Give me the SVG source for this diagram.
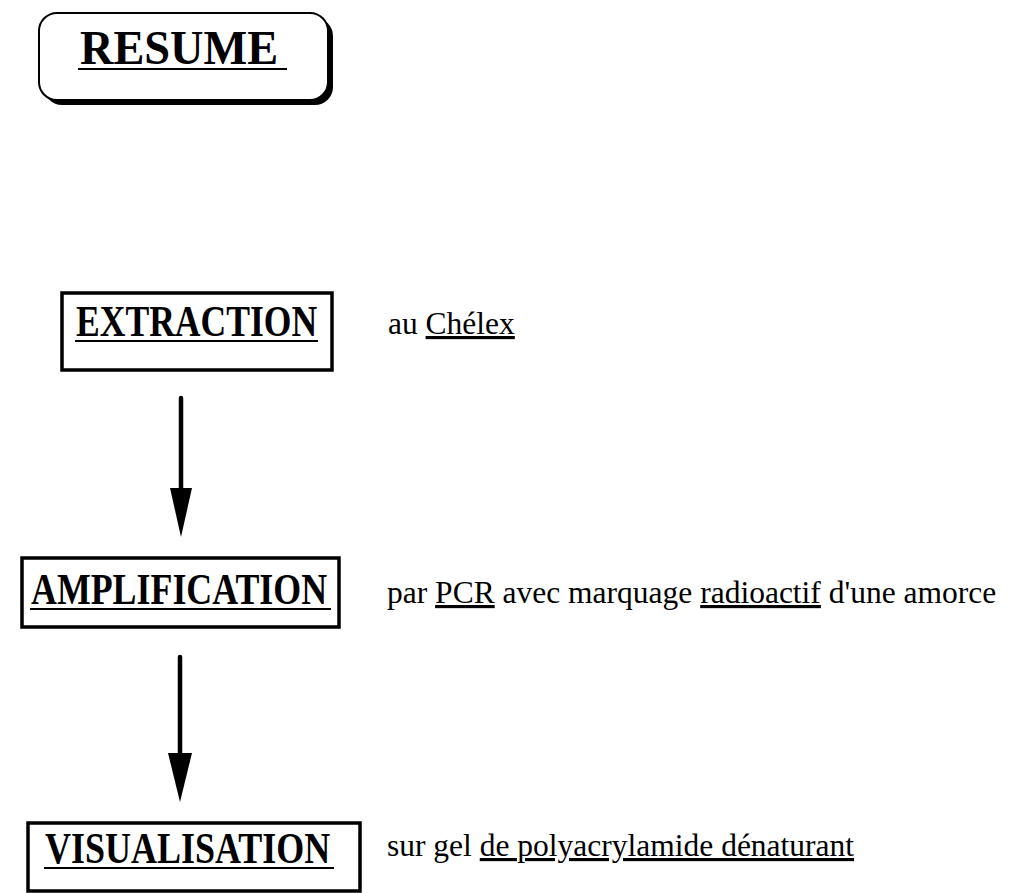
<svg xmlns="http://www.w3.org/2000/svg" width="1019" height="893" viewBox="0 0 1019 893">
  <style>
    .box { fill: #fff; stroke: #000; stroke-width: 3.5; }
    .title { font-family: "Liberation Serif", "Times New Roman", serif; font-weight: bold; font-size: 44px; fill: #000; }
    .heading { font-size: 48px; }
    .note { font-family: "Liberation Serif", "Times New Roman", serif; font-size: 31.5px; fill: #000; }
    .ul { stroke: #000; stroke-width: 2; }
    .shaft { stroke: #000; stroke-width: 4.5; stroke-linecap: round; }
  </style>
  <rect width="1019" height="893" fill="#fff"/>

  <!-- heading: rounded box with drop shadow -->
  <g id="resume">
    <rect x="44" y="18" width="289" height="87" rx="18" fill="#000"/>
    <rect x="39" y="13" width="289" height="87" rx="18" fill="#fff" stroke="#000" stroke-width="2"/>
    <text class="title heading" transform="translate(80 64) scale(0.965 1)">RESUME</text>
    <line class="ul" x1="78" y1="69" x2="287" y2="69" stroke-width="2.4"/>
  </g>

  <!-- step titles use a slightly condensed bold serif -->
  <g id="extraction">
    <rect class="box" x="62" y="293" width="270" height="77"/>
    <text class="title" transform="translate(76 336) scale(0.809 1)">EXTRACTION</text>
    <line class="ul" x1="75" y1="341" x2="318" y2="341"/>
    <text class="note" x="388" y="334">au <tspan text-decoration="underline">Chélex</tspan></text>
  </g>

  <g id="amplification">
    <rect class="box" x="22" y="558" width="317" height="69"/>
    <text class="title" transform="translate(31 604) scale(0.815 1)">AMPLIFICATION</text>
    <line class="ul" x1="30" y1="609" x2="331" y2="609"/>
    <text class="note" x="387" y="603">par <tspan text-decoration="underline">PCR</tspan> avec marquage <tspan text-decoration="underline">radioactif</tspan> d'une amorce</text>
  </g>

  <g id="visualisation">
    <rect class="box" x="28" y="823" width="332" height="68"/>
    <text class="title" transform="translate(45 863) scale(0.818 1)">VISUALISATION</text>
    <line class="ul" x1="44" y1="868" x2="334" y2="868"/>
    <text class="note" x="387" y="856">sur gel <tspan text-decoration="underline">de polyacrylamide dénaturant</tspan></text>
  </g>

  <g id="connectors">
    <line class="shaft" x1="181" y1="398" x2="181" y2="492"/>
    <polygon points="170,488 192,488 181,537" fill="#000"/>
    <line class="shaft" x1="180" y1="657" x2="180" y2="757"/>
    <polygon points="168,753 192,753 180,802" fill="#000"/>
  </g>
</svg>
